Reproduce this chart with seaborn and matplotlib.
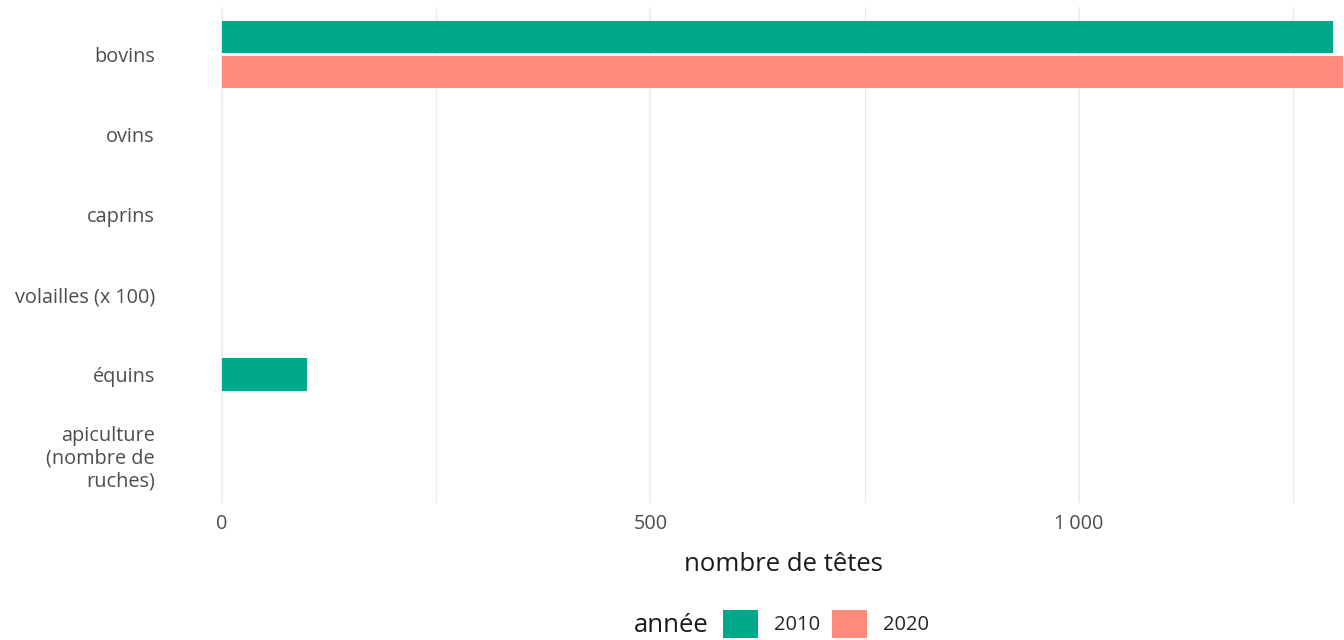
import matplotlib

matplotlib.use("Agg")
import matplotlib.pyplot as plt
import numpy as np
import pandas as pd
import seaborn as sns
from matplotlib.ticker import FuncFormatter, MultipleLocator

CATEGORIES = ["bovins", "ovins", "caprins", "volailles (x 100)", "équins",
              "apiculture\n(nombre de\nruches)"]
YEARS = ["2010", "2020"]
VALUES_2010 = [1296, np.nan, np.nan, np.nan, 99, np.nan]
VALUES_2020 = [1308, np.nan, np.nan, np.nan, np.nan, np.nan]
COLORS = {"2010": "#00a88a", "2020": "#ff8c7a"}

rows = []
for cat, v10, v20 in zip(CATEGORIES, VALUES_2010, VALUES_2020):
    rows.append({"categorie": cat, "annee": "2010", "tetes": v10})
    rows.append({"categorie": cat, "annee": "2020", "tetes": v20})
df = pd.DataFrame(rows).dropna()

# categories with both years are dodged, single ones stay centred (preserve="single")
counts = df.groupby("categorie")["annee"].transform("count")
df_pair = df[counts > 1]
df_single = df[counts == 1]

sns.set_theme(style="white")
plt.rcParams["font.family"] = ["Open Sans", "DejaVu Sans"]

fig = plt.figure(figsize=(13.44, 6.4), dpi=100)
ax = fig.add_axes([166 / 1344, 1 - 502.5 / 640, 1 - 166 / 1344, 496 / 640])

sns.barplot(data=df_pair, x="tetes", y="categorie", hue="annee", order=CATEGORIES,
            hue_order=YEARS, palette=COLORS, orient="h", width=0.87, gap=0.08,
            saturation=1, linewidth=0, ax=ax)
sns.barplot(data=df_single, x="tetes", y="categorie", hue="annee", order=CATEGORIES,
            hue_order=YEARS, palette=COLORS, orient="h", width=0.41, dodge=False,
            saturation=1, linewidth=0, legend=False, ax=ax)

ax.set_xlim(-65, 1309)
ax.set_ylim(len(CATEGORIES) - 0.4, -0.6)
ax.xaxis.set_major_locator(MultipleLocator(500))
ax.xaxis.set_minor_locator(MultipleLocator(250))
ax.xaxis.set_major_formatter(FuncFormatter(lambda v, p: f"{int(v):,}".replace(",", "\u202f")))
ax.grid(axis="x", which="major", color="#ebebeb", linewidth=1.2)
ax.grid(axis="x", which="minor", color="#ebebeb", linewidth=0.8)
ax.grid(axis="y", visible=False)
ax.set_axisbelow(True)
for s in ax.spines.values():
    s.set_visible(False)
ax.tick_params(axis="both", length=0, labelsize=14.3, labelcolor="#4d4d4d")
ax.tick_params(axis="x", pad=8)
ax.tick_params(axis="y", pad=8)
ax.set_ylabel("")
ax.set_xlabel("nombre de têtes", fontsize=18.5, color="#1a1a1a")
ax.xaxis.set_label_coords((783 - 166) / (1344 - 166), -(552 - 502.5) / 496)

handles, labels = ax.get_legend_handles_labels()
ax.get_legend().remove()
fig.text(671 / 1344, 1 - 625 / 640, "année", ha="center", va="center",
         fontsize=18.5, color="#1a1a1a")
fig.legend(handles, labels, loc="center", bbox_to_anchor=(826 / 1344, 1 - 624 / 640),
           ncol=2, frameon=False, fontsize=14.5, handlelength=1.75, handleheight=1.8,
           handletextpad=0.8, columnspacing=0.6)

fig.savefig("out.png", dpi=100)
